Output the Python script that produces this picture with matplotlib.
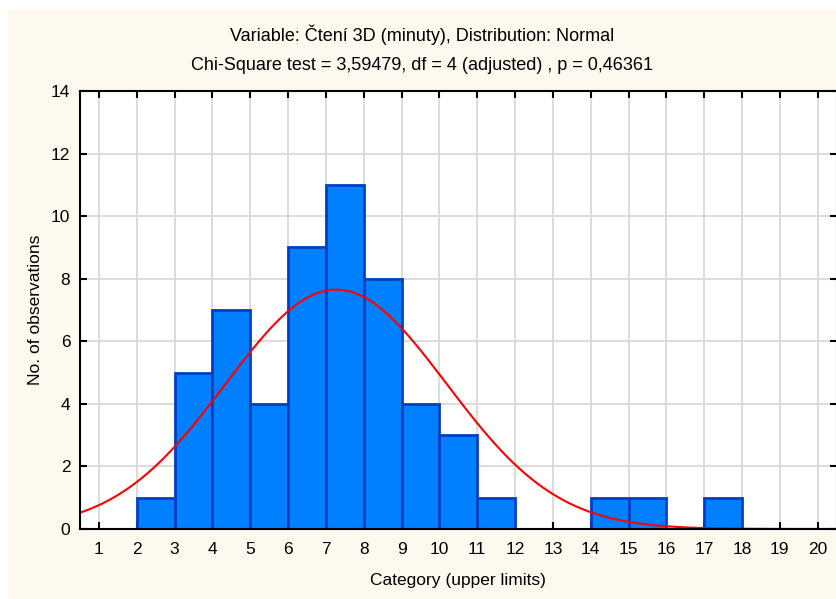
import numpy as np
import matplotlib
matplotlib.use("Agg")
import matplotlib.pyplot as plt
from matplotlib.patches import Rectangle

plt.rcParams['font.family'] = ['Liberation Sans', 'DejaVu Sans']

# Histogram bins (upper limits) and observed counts
bin_upper = [3, 4, 5, 6, 7, 8, 9, 10, 11, 12, 15, 16, 18]
counts = [1, 5, 7, 4, 9, 11, 8, 4, 3, 1, 1, 1, 1]
bin_width = 1.0

# Fitted normal distribution
curve_mean = 7.27
curve_sd = 2.92
n_obs = sum(counts)

x_ticks = list(range(1, 21))
y_ticks = [0, 2, 4, 6, 8, 10, 12, 14]

title1 = "Variable: Čtení 3D (minuty), Distribution: Normal"
title2 = "Chi-Square test = 3,59479, df = 4 (adjusted) , p = 0,46361"

W, H = 836, 599
fig = plt.figure(figsize=(W / 100, H / 100), dpi=100, facecolor="white")

# cream panel behind the chart
fig.patches.append(Rectangle((8 / W, 0), 1 - 8 / W, 1 - 10 / H,
                             transform=fig.transFigure, facecolor="#FDF9EE",
                             edgecolor="none", zorder=-10))

left, right, top, bottom = 80, 836.6, 91, 529
ax = fig.add_axes([left / W, 1 - bottom / H, (right - left) / W, (bottom - top) / H])
ax.set_zorder(5)
ax.set_facecolor("white")

lefts = [u - bin_width for u in bin_upper]
ax.bar(lefts, counts, width=bin_width, align="edge", color="#0080FF",
       edgecolor="#0040C0", linewidth=2, zorder=3)

xs = np.linspace(0.5, 20.5, 400)
pdf = np.exp(-0.5 * ((xs - curve_mean) / curve_sd) ** 2) / (curve_sd * np.sqrt(2 * np.pi))
ax.plot(xs, n_obs * bin_width * pdf, color="#FF0000", linewidth=1.5, zorder=4)

ax.set_xlim(0.5, 20.5)
ax.set_ylim(0, 14)
ax.set_xticks(x_ticks)
ax.set_yticks(y_ticks)
ax.grid(True, color="#D9D9D9", linewidth=1.3, zorder=0)
ax.set_axisbelow(True)

for s in ax.spines.values():
    s.set_linewidth(1.5)
    s.set_color("black")
    s.set_zorder(5)

ax.tick_params(direction="in", length=5, width=1.5, top=True, right=True,
               labelsize=12.5, colors="black")
ax.tick_params(axis="x", pad=9)
ax.tick_params(axis="y", pad=7)

ax.set_xlabel("Category (upper limits)", fontsize=12.5, labelpad=12)
ax.set_ylabel("No. of observations", fontsize=12.5, labelpad=6)

fig.text(422 / W, 1 - 35 / H, title1, ha="center", va="center", fontsize=13)
fig.text(422 / W, 1 - 65 / H, title2, ha="center", va="center", fontsize=13)

fig.savefig("out.png", dpi=100, facecolor=fig.get_facecolor())
